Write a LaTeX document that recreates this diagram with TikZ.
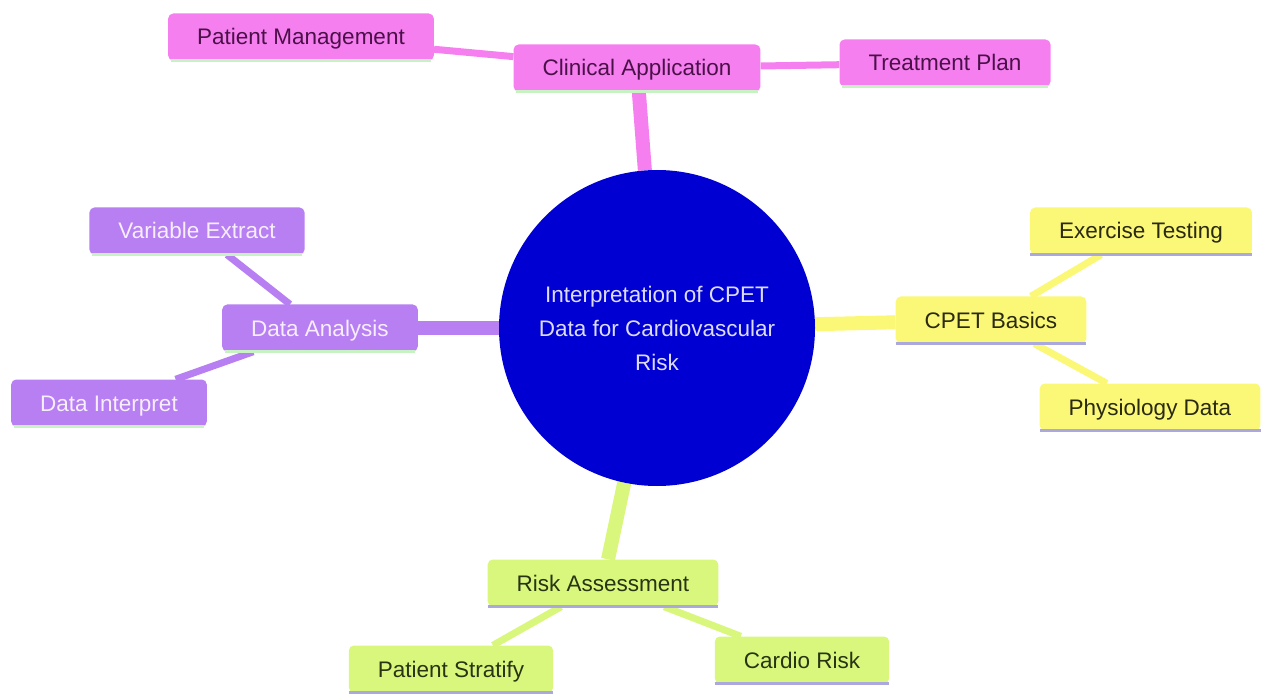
\documentclass[tikz,border=0pt]{standalone}
\usepackage{fontspec}
\setmainfont{Liberation Sans}
\usetikzlibrary{backgrounds}
\definecolor{pinkfill}{HTML}{F67FF0}
\definecolor{pinktext}{HTML}{4A1048}
\definecolor{yellowfill}{HTML}{FCF877}
\definecolor{yellowtext}{HTML}{2A2A10}
\definecolor{purplefill}{HTML}{B77FF2}
\definecolor{purpletext}{HTML}{F6EEFF}
\definecolor{greenfill}{HTML}{D9F77C}
\definecolor{greentext}{HTML}{283414}
\definecolor{hubblue}{HTML}{0000D2}
\definecolor{hubtext}{HTML}{DCDCFA}
\definecolor{lavline}{HTML}{ABA8DE}
\definecolor{mintline}{HTML}{C9F2C4}
\tikzset{
  topic/.style={rounded corners=5pt, minimum height=47pt, inner xsep=29pt,
    text height=16pt, text depth=0pt, font=\fontsize{22.5}{27}\selectfont},
  pinkbox/.style={topic, fill=pinkfill, text=pinktext},
  yellowbox/.style={topic, fill=yellowfill, text=yellowtext},
  purplebox/.style={topic, fill=purplefill, text=purpletext},
  greenbox/.style={topic, fill=greenfill, text=greentext},
  hub/.style={circle, fill=hubblue, text=hubtext, minimum size=316pt,
    align=center, font=\fontsize{22.5}{34}\selectfont},
  trunk/.style={line width=14pt},
  twig/.style={line width=7pt},
  baseline/.style={line width=3pt}
}
\begin{document}
\begin{tikzpicture}[x=1pt, y=-1pt]
\useasboundingbox (0,0) rectangle (1262,695);

\node[hub] (cpet) at (657,328) {Interpretation of CPET\\Data for Cardiovascular\\Risk};

\node[pinkbox] (clinical) at (637,68) {Clinical Application};
\node[pinkbox] (manage) at (301,37) {Patient Management};
\node[pinkbox] (plan) at (945,63) {Treatment Plan};

\node[yellowbox] (basics) at (991,320) {CPET Basics};
\node[yellowbox] (exercise) at (1141,231) {Exercise Testing};
\node[yellowbox] (physio) at (1150,407) {Physiology Data};

\node[purplebox] (analysis) at (320,328) {Data Analysis};
\node[purplebox] (extract) at (197,231) {Variable Extract};
\node[purplebox] (interpret) at (109,403) {Data Interpret};

\node[greenbox] (risk) at (603,583) {Risk Assessment};
\node[greenbox] (stratify) at (451,669) {Patient Stratify};
\node[greenbox] (cardio) at (802,660) {Cardio Risk};

\begin{scope}[on background layer]
\draw[trunk, pinkfill] (cpet) -- (clinical);
\draw[twig, pinkfill] (clinical) -- (manage);
\draw[twig, pinkfill] (clinical) -- (plan);
\draw[trunk, yellowfill] (cpet) -- (basics);
\draw[twig, yellowfill] (basics) -- (exercise);
\draw[twig, yellowfill] (basics) -- (physio);
\draw[trunk, purplefill] (cpet) -- (analysis);
\draw[twig, purplefill] (analysis) -- (extract);
\draw[twig, purplefill] (analysis) -- (interpret);
\draw[trunk, greenfill] (cpet) -- (risk);
\draw[twig, greenfill] (risk) -- (stratify);
\draw[twig, greenfill] (risk) -- (cardio);
\end{scope}

\foreach \n in {clinical, manage, plan, analysis, extract, interpret}
  \draw[baseline, mintline] ([xshift=3pt]\n.south west) -- ([xshift=-3pt]\n.south east);
\foreach \n in {basics, exercise, physio, risk, stratify, cardio}
  \draw[baseline, lavline] (\n.south west) -- (\n.south east);
\end{tikzpicture}
\end{document}
